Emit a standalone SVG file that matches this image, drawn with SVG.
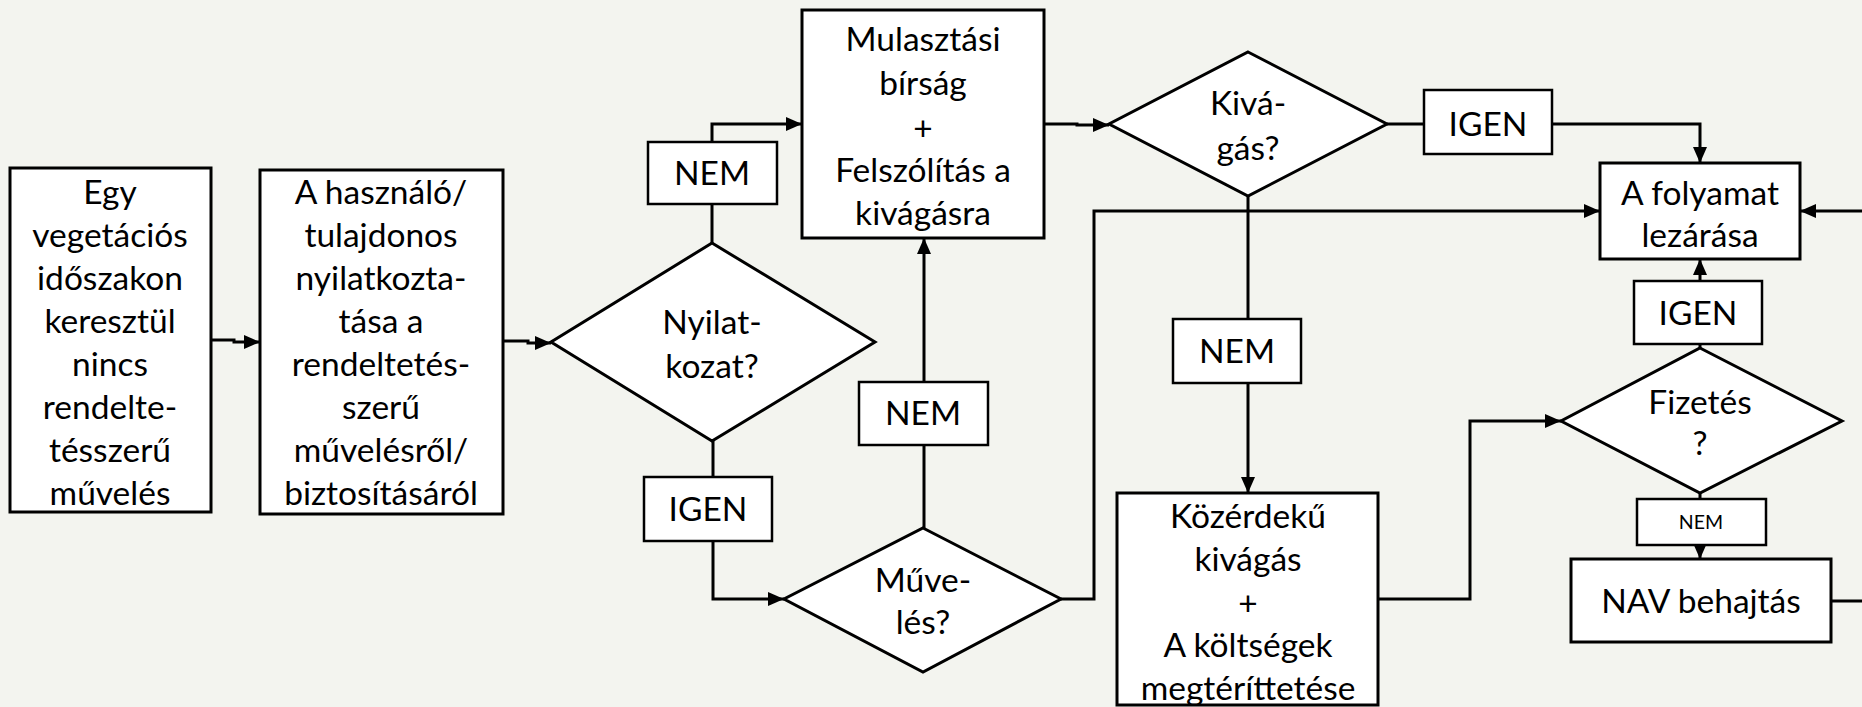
<svg xmlns="http://www.w3.org/2000/svg" width="1862" height="707" viewBox="0 0 1862 707">
<defs>
<style>
.box{fill:#fff;stroke:#000;stroke-width:3}
.lbl{fill:#fff;stroke:#000;stroke-width:2.5}
.t{font-family:Lato,"Liberation Sans",sans-serif;font-size:33.5px;text-anchor:middle;fill:#000}
.s{font-size:19.5px}
.c{fill:none;stroke:#000;stroke-width:3}
.a{marker-end:url(#arr)}
</style>
<marker id="arr" markerUnits="userSpaceOnUse" markerWidth="16" markerHeight="14" refX="16" refY="7" orient="auto">
<path d="M0,0 L16,7 L0,14 z" fill="#000"/>
</marker>
</defs>
<rect width="1862" height="707" fill="#f3f4ef"/>
<g id="connectors">
<path class="c a" d="M211,340 H234 V342 H260"/>
<path class="c a" d="M503,341 H528 V343 H551"/>
<path class="c" d="M712,243 V204"/>
<path class="c a" d="M712,142 V124 H802"/>
<path class="c" d="M713,441 V477"/>
<path class="c a" d="M713,541 V599 H784"/>
<path class="c" d="M924,528 V445"/>
<path class="c a" d="M924,382 V238"/>
<path class="c a" d="M1061,599 H1094 V211 H1600"/>
<path class="c a" d="M1044,124 H1077 V125 H1109"/>
<path class="c" d="M1387,124 H1424"/>
<path class="c a" d="M1552,124 H1700 V163"/>
<path class="c" d="M1248,196 V319"/>
<path class="c a" d="M1248,383 V493"/>
<path class="c a" d="M1378,599 H1470 V421 H1561"/>
<path class="c" d="M1700,348 V344"/>
<path class="c a" d="M1700,281 V259"/>
<path class="c" d="M1700,493 V499"/>
<path class="c a" d="M1700,545 V559"/>
<path class="c a" d="M1831,601 H1880 V211 H1800"/>
</g>
<g id="n1">
<rect class="box" x="10" y="168" width="201" height="344"/>
<text class="t" x="110"><tspan x="110" y="204">Egy</tspan><tspan x="110" y="247">vegetációs</tspan><tspan x="110" y="290">időszakon</tspan><tspan x="110" y="333">keresztül</tspan><tspan x="110" y="376">nincs</tspan><tspan x="110" y="419">rendelte-</tspan><tspan x="110" y="462">tésszerű</tspan><tspan x="110" y="505">művelés</tspan></text>
</g>
<g id="n2">
<rect class="box" x="260" y="170" width="243" height="344"/>
<text class="t" x="381"><tspan x="381" y="204">A használó/</tspan><tspan x="381" y="247">tulajdonos</tspan><tspan x="381" y="290">nyilatkozta-</tspan><tspan x="381" y="333">tása a</tspan><tspan x="381" y="376">rendeltetés-</tspan><tspan x="381" y="419">szerű</tspan><tspan x="381" y="462">művelésről/</tspan><tspan x="381" y="505">biztosításáról</tspan></text>
</g>
<g id="d1">
<polygon class="box" points="712,243 875,342 712,441 551,342"/>
<text class="t"><tspan x="712" y="334">Nyilat-</tspan><tspan x="712" y="378">kozat?</tspan></text>
</g>
<g id="l1">
<rect class="lbl" x="648" y="142" width="129" height="62"/>
<text class="t" x="712" y="185">NEM</text>
</g>
<g id="l2">
<rect class="lbl" x="644" y="477" width="128" height="64"/>
<text class="t" x="708" y="521">IGEN</text>
</g>
<g id="n3">
<rect class="box" x="802" y="10" width="242" height="228"/>
<text class="t"><tspan x="923" y="51">Mulasztási</tspan><tspan x="923" y="95">bírság</tspan><tspan x="923" y="140">+</tspan><tspan x="923" y="182">Felszólítás a</tspan><tspan x="923" y="225">kivágásra</tspan></text>
</g>
<g id="l3">
<rect class="lbl" x="859" y="382" width="129" height="63"/>
<text class="t" x="923" y="425">NEM</text>
</g>
<g id="d2">
<polygon class="box" points="923,528 1061,599 923,672 784,599"/>
<text class="t"><tspan x="923" y="592">Műve-</tspan><tspan x="923" y="634">lés?</tspan></text>
</g>
<g id="d3">
<polygon class="box" points="1248,52 1387,124 1248,196 1109,124"/>
<text class="t"><tspan x="1248" y="115">Kivá-</tspan><tspan x="1248" y="160">gás?</tspan></text>
</g>
<g id="l4">
<rect class="lbl" x="1424" y="90" width="128" height="64"/>
<text class="t" x="1488" y="136">IGEN</text>
</g>
<g id="n4">
<rect class="box" x="1600" y="163" width="200" height="96"/>
<text class="t"><tspan x="1700" y="205">A folyamat</tspan><tspan x="1700" y="247">lezárása</tspan></text>
</g>
<g id="l5">
<rect class="lbl" x="1173" y="319" width="128" height="64"/>
<text class="t" x="1237" y="363">NEM</text>
</g>
<g id="l6">
<rect class="lbl" x="1634" y="281" width="128" height="63"/>
<text class="t" x="1698" y="325">IGEN</text>
</g>
<g id="d4">
<polygon class="box" points="1700,348 1842,421 1700,493 1561,421"/>
<text class="t"><tspan x="1700" y="414">Fizetés</tspan><tspan x="1700" y="455">?</tspan></text>
</g>
<g id="l7">
<rect class="lbl" x="1637" y="499" width="129" height="46"/>
<text class="t s" x="1701" y="529">NEM</text>
</g>
<g id="n5">
<rect class="box" x="1571" y="559" width="260" height="83"/>
<text class="t" x="1701" y="613">NAV behajtás</text>
</g>
<g id="n6">
<rect class="box" x="1117" y="493" width="261" height="212"/>
<text class="t"><tspan x="1248" y="528">Közérdekű</tspan><tspan x="1248" y="571">kivágás</tspan><tspan x="1248" y="615">+</tspan><tspan x="1248" y="657">A költségek</tspan><tspan x="1248" y="700">megtéríttetése</tspan></text>
</g>
</svg>
